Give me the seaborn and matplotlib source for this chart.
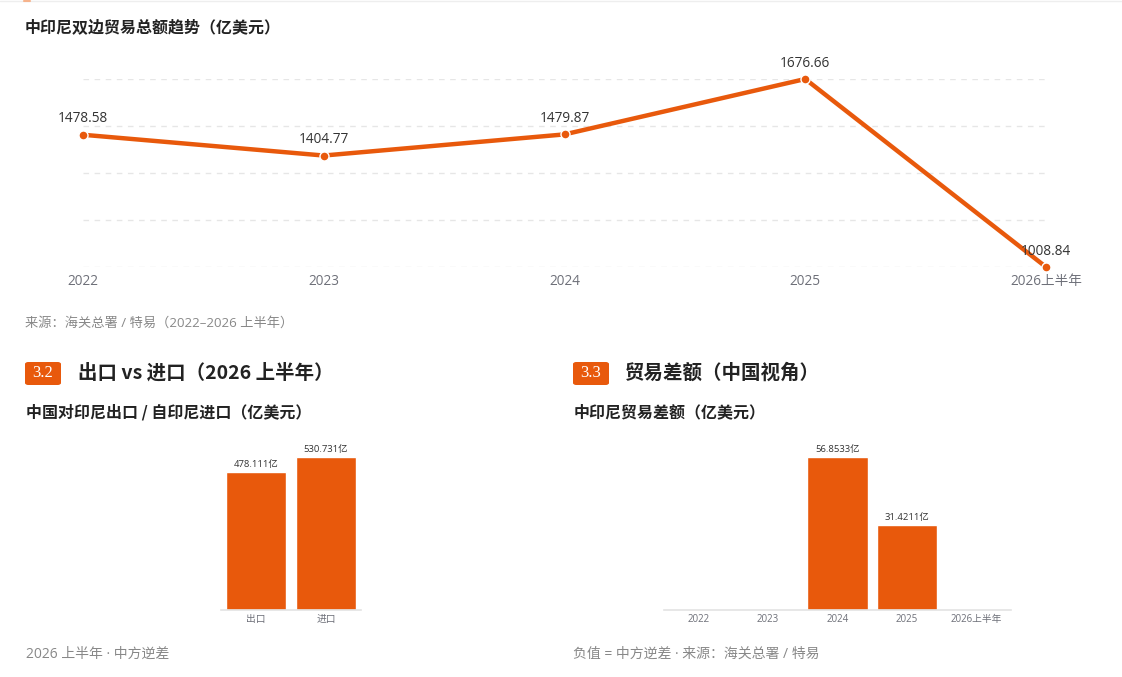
import numpy as np
import pandas as pd
import matplotlib
matplotlib.use("Agg")
import matplotlib.pyplot as plt
import seaborn as sns
from matplotlib.patches import FancyBboxPatch

# ---------------- data ----------------
trend_years = ["2022", "2023", "2024", "2025", "2026上半年"]
trend_values = [1478.58, 1404.77, 1479.87, 1676.66, 1008.84]

trade_cats = ["出口", "进口"]
trade_values = [478.111, 530.731]

balance_years = ["2022", "2023", "2024", "2025", "2026上半年"]
balance_values = [np.nan, np.nan, 56.8533, 31.4211, np.nan]

# ---------------- style ----------------
sns.set_theme(style="white")
plt.rcParams['font.family'] = ['Noto Sans CJK SC', 'DejaVu Sans']
plt.rcParams['axes.unicode_minus'] = False

MIX = ['Open Sans', 'Noto Sans CJK SC', 'DejaVu Sans']

ORANGE = "#E8590C"
DARK = "#222222"
GREY = "#6e7079"
FOOT = "#888888"

W, H = 1122, 677
fig = plt.figure(figsize=(W / 100, H / 100), dpi=100)
fig.patch.set_facecolor("white")


def box(l, t, r, b):
    return [l / W, 1 - b / H, (r - l) / W, (b - t) / H]


def ftext(x, y, s, **kw):
    fig.text(x / W, 1 - y / H, s, **kw)


# faint top rule
fig.add_artist(plt.Line2D([0, 1], [1 - 0.5 / H, 1 - 0.5 / H], color="#eeeeee", lw=1))
fig.add_artist(plt.Line2D([24 / W, 30 / W], [1 - 0.5 / H, 1 - 0.5 / H], color="#f6b38c", lw=1.5))

# ---------------- top line chart ----------------
ftext(25, 27, "中印尼双边贸易总额趋势（亿美元）", fontsize=11.5, fontweight="bold",
      color=DARK, va="center", ha="left")

ax1 = fig.add_axes(box(83, 79, 1046, 267))
df1 = pd.DataFrame({"pos": np.arange(len(trend_years)), "val": trend_values})
sns.lineplot(data=df1, x="pos", y="val", ax=ax1, color=ORANGE, lw=3.2,
             marker="o", markersize=6.5, markerfacecolor=ORANGE,
             markeredgecolor="white", markeredgewidth=1.0, clip_on=False, zorder=3)
lo, hi = min(trend_values), max(trend_values)
ax1.set_ylim(lo, hi)
ax1.set_xlim(0, len(trend_years) - 1)
ax1.set_yticks(np.linspace(lo, hi, 5))
ax1.set_yticklabels([])
ax1.yaxis.grid(True, color="#e6e6e6", lw=1, linestyle=(0, (4, 4)))
ax1.set_xticks(df1["pos"])
ax1.set_xticklabels(trend_years, fontsize=9.8, color=GREY, family=MIX)
ax1.tick_params(axis="x", length=0, pad=5)
ax1.tick_params(axis="y", length=0)
ax1.set_xlabel("")
ax1.set_ylabel("")
for s in ax1.spines.values():
    s.set_visible(False)
for p, v in zip(df1["pos"], trend_values):
    ax1.annotate(f"{v:.2f}", (p, v), xytext=(0, 6), textcoords="offset points",
                 ha="center", va="bottom", fontsize=9.8, color="#333333", zorder=4,
                 family=MIX)

ftext(25, 323, "来源：海关总署 / 特易（2022–2026 上半年）", fontsize=9.5,
      color=FOOT, va="center", ha="left", family=MIX)


# ---------------- section headings ----------------
def badge(x0, x1, y0, y1, label):
    p = FancyBboxPatch((x0 / W, 1 - y1 / H), (x1 - x0) / W, (y1 - y0) / H,
                       boxstyle="round,pad=0,rounding_size=0.003",
                       transform=fig.transFigure, facecolor=ORANGE,
                       edgecolor="none")
    fig.add_artist(p)
    ftext((x0 + x1) / 2, (y0 + y1) / 2, label, fontsize=12, color="white",
          ha="center", va="center", family=["Liberation Serif", "DejaVu Serif"])


badge(25, 61, 362, 385, "3.2")
ftext(78, 373, "出口 vs 进口（2026 上半年）", fontsize=14, fontweight="bold",
      color=DARK, va="center", ha="left")
ftext(26, 412, "中国对印尼出口 / 自印尼进口（亿美元）", fontsize=11.5, fontweight="bold",
      color=DARK, va="center", ha="left")

badge(573, 609, 362, 385, "3.3")
ftext(625, 373, "贸易差额（中国视角）", fontsize=14, fontweight="bold",
      color=DARK, va="center", ha="left")
ftext(574, 412, "中印尼贸易差额（亿美元）", fontsize=11.5, fontweight="bold",
      color=DARK, va="center", ha="left")


def bar_panel(ax, cats, vals):
    df = pd.DataFrame({"cat": cats, "val": vals})
    sns.barplot(data=df, x="cat", y="val", ax=ax, color=ORANGE, width=0.87,
                saturation=1, order=cats)
    vmax = np.nanmax(vals)
    ax.set_ylim(0, vmax * 170 / 153)
    ax.set_xlim(-0.5, len(cats) - 0.5)
    ax.set_yticks([])
    ax.set_xlabel("")
    ax.set_ylabel("")
    for s in ["top", "right", "left"]:
        ax.spines[s].set_visible(False)
    ax.spines["bottom"].set_color("#e3e3e3")
    ax.spines["bottom"].set_linewidth(1.2)
    ax.tick_params(axis="x", length=0, pad=3, labelsize=7, labelcolor=GREY)
    for lab in ax.get_xticklabels():
        lab.set_family(MIX)
    for i, v in enumerate(vals):
        if v is None or np.isnan(v):
            continue
        ax.annotate(f"{v:g}亿", (i, v), xytext=(0, 2.5), textcoords="offset points",
                    ha="center", va="bottom", fontsize=6.8, color="#333333",
                    family=MIX)
    ax.patch.set_alpha(0)


ax2 = fig.add_axes(box(221, 440, 361, 610))
bar_panel(ax2, trade_cats, trade_values)

ax3 = fig.add_axes(box(664, 440, 1011, 610))
bar_panel(ax3, balance_years, balance_values)

ftext(26, 654, "2026 上半年 · 中方逆差", fontsize=10, color=FOOT, va="center", ha="left",
      family=MIX)
ftext(573, 654, "负值 = 中方逆差 · 来源：海关总署 / 特易", fontsize=10, color=FOOT,
      va="center", ha="left", family=MIX)

fig.savefig("out.png", dpi=100, facecolor="white")
